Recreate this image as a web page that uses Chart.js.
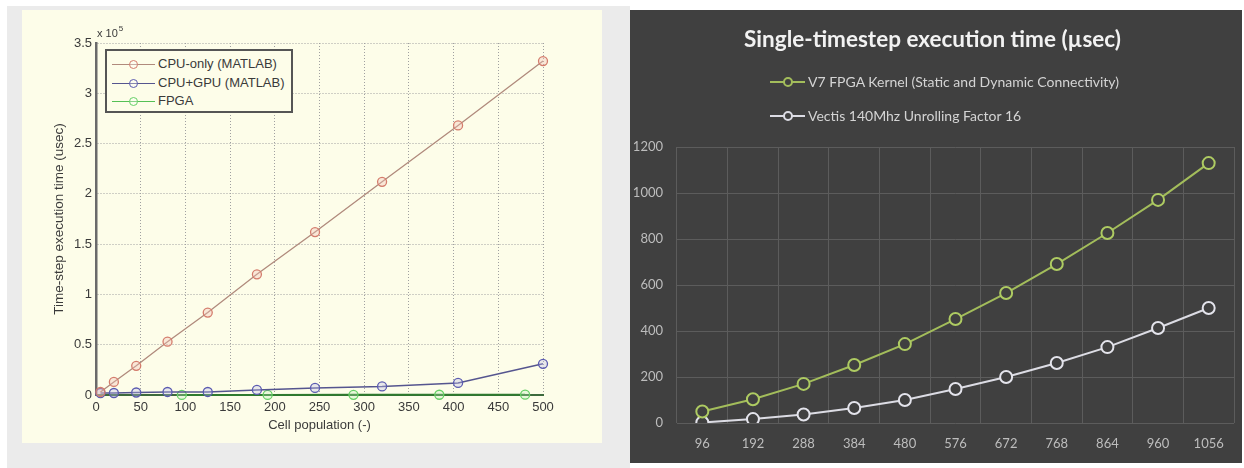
<!DOCTYPE html>
<html>
<head>
<meta charset="utf-8">
<script src="https://cdn.jsdelivr.net/npm/chart.js@4.4.0/dist/chart.umd.min.js"></script>
<style>
  html,body{margin:0;padding:0;}
  body{width:1244px;height:468px;position:relative;overflow:hidden;background:#ffffff;font-family:"Liberation Sans",Arial,sans-serif;}
  .abs{position:absolute;}
  #grayBg{left:7px;top:6px;width:623px;height:462px;background:#ebebeb;}
  #leftPanel{left:22px;top:10px;width:580px;height:433px;background:#fdfde9;}
  #rightPanel{left:630px;top:10px;width:612px;height:453px;background:#404040;}
  #legL{left:105px;top:49px;width:184px;height:60px;border:2px solid #555;background:#fdfde9;}
  .lgLine{position:absolute;height:1px;}
  .lgDot{position:absolute;border-radius:50%;box-sizing:border-box;}
  .lgTxt{position:absolute;white-space:nowrap;}
</style>
</head>
<body>
<div id="grayBg" class="abs"></div>
<div id="leftPanel" class="abs"><canvas id="c1" width="580" height="433"></canvas></div>
<div id="rightPanel" class="abs"><canvas id="c2" width="612" height="453"></canvas></div>
<div id="legL" class="abs"></div>
<div id="legR"></div>
<script>
// ---------- data: left chart (MATLAB) ----------
const populationX = [5, 20, 45, 80, 125, 180, 245, 320, 405, 500];
const cpuOnly     = [3000, 13000, 29000, 53000, 82000, 120000, 162000, 212000, 268000, 332000];
const cpuGpu      = [2000, 2000, 2500, 3000, 3000, 5000, 7000, 8500, 12000, 31000];
const fpgaX       = [96, 192, 288, 384, 480];
const fpgaUs      = [50, 103, 170, 252, 343];
const leftLabels  = ['CPU-only (MATLAB)', 'CPU+GPU (MATLAB)', 'FPGA'];

// ---------- data: right chart (Excel) ----------
const cellCategories = ['96','192','288','384','480','576','672','768','864','960','1056'];
const v7Kernel = [50, 103, 170, 252, 343, 452, 565, 691, 826, 970, 1130];
const vectis   = [2, 17, 37, 65, 100, 148, 200, 261, 330, 413, 500];
const rightLabels = ['V7 FPGA Kernel (Static and Dynamic Connectivity)', 'Vectis 140Mhz Unrolling Factor 16'];
const rightTitle = 'Single-timestep execution time (\u00b5sec)';

function pts(xs, ys){ return xs.map((x,i)=>({x:x, y:ys[i]})); }

// ---------- left chart ----------
const exponentPlugin = {
  id:'exponent',
  afterDraw(chart){
    const ctx = chart.ctx, a = chart.chartArea;
    ctx.save();
    ctx.fillStyle = '#3a3a3a';
    ctx.font = '11px "Liberation Sans", Arial, sans-serif';
    ctx.textBaseline = 'alphabetic';
    ctx.fillText('x 10', a.left + 1, a.top - 6);
    const w = ctx.measureText('x 10').width;
    ctx.font = '8px "Liberation Sans", Arial, sans-serif';
    ctx.fillText('5', a.left + 2 + w, a.top - 12);
    ctx.restore();
  }
};

const leftFont = {family:'"Liberation Sans", Arial, sans-serif', size:13};
new Chart(document.getElementById('c1'), {
  type:'scatter',
  data:{datasets:[
    {label:leftLabels[0], data:pts(populationX, cpuOnly), showLine:true, clip:false,
     borderColor:'#b08a7c', borderWidth:1.3, pointRadius:4.5, pointBorderWidth:1.3,
     pointBorderColor:'#d47c6c', pointBackgroundColor:'rgba(240,190,180,0.35)'},
    {label:leftLabels[1], data:pts(populationX, cpuGpu), showLine:true, clip:false,
     borderColor:'#55558f', borderWidth:1.5, pointRadius:4.5, pointBorderWidth:1.3,
     pointBorderColor:'#5a5ab0', pointBackgroundColor:'rgba(190,190,235,0.35)'},
    {label:leftLabels[2], data:pts(fpgaX, fpgaUs), showLine:true, clip:false,
     borderColor:'#2f7a2f', borderWidth:2, pointRadius:4.5, pointBorderWidth:1.3,
     pointBorderColor:'#66d066', pointBackgroundColor:'rgba(190,240,190,0.3)'}
  ]},
  options:{
    responsive:false, animation:false,
    layout:{padding:{left:0, right:59, top:33, bottom:0}},
    plugins:{legend:{display:false}, tooltip:{enabled:false}},
    scales:{
      x:{type:'linear', min:0, max:500,
         ticks:{stepSize:50, padding:5, color:'#3a3a3a', font:leftFont, maxRotation:0},
         grid:{color:'#a0a0a0', lineWidth:1, drawTicks:false},
         border:{display:true, color:'#3d6a3d', width:2, dash:[1,2]},
         title:{display:true, text:'Cell population (-)', color:'#3a3a3a', font:leftFont, padding:{top:0, bottom:10}},
         afterFit(s){ s.height = 48; }},
      y:{type:'linear', min:0, max:350000,
         ticks:{stepSize:50000, padding:4, color:'#3a3a3a', font:leftFont,
                callback:(v)=>String(Math.round(v/1e4)/10)},
         grid:{color:'#a0a0a0', lineWidth:1, drawTicks:false},
         border:{display:true, color:'#6a6a6a', width:2.5, dash:[1,2]},
         title:{display:true, text:'Time-step execution time (usec)', color:'#3a3a3a',
                font:{family:'"Liberation Sans", Arial, sans-serif', size:13.5}, padding:{top:29, bottom:0}},
         afterFit(s){ s.width = 74; }}
    }
  },
  plugins:[exponentPlugin]
});

// left legend (HTML)
(function(){
  const box = document.getElementById('legL');
  const cols = [['#b08a7c','#d47c6c'],['#55558f','#5a5ab0'],['#55c055','#66d066']];
  const rowsY = [13, 32, 50];
  leftLabels.forEach((t,i)=>{
    const y = rowsY[i];
    const ln = document.createElement('div'); ln.className='lgLine';
    ln.style.cssText += `left:5px;top:${y}px;width:43px;background:${cols[i][0]};`;
    box.appendChild(ln);
    const d = document.createElement('div'); d.className='lgDot';
    d.style.cssText += `left:22px;top:${y-4}px;width:9px;height:9px;border:1.2px solid ${cols[i][1]};background:rgba(255,255,255,0.3);`;
    box.appendChild(d);
    const tx = document.createElement('div'); tx.className='lgTxt'; tx.textContent=t;
    tx.style.cssText += `left:51px;top:${y-8}px;font-size:13px;line-height:16px;color:#3a3a3a;`;
    box.appendChild(tx);
  });
})();

// ---------- right chart ----------
const rightFont = {family:'Lato, "Open Sans", sans-serif', size:13};
new Chart(document.getElementById('c2'), {
  type:'line',
  data:{labels:cellCategories, datasets:[
    {label:rightLabels[0], data:v7Kernel, borderColor:'#a3bd5b', borderWidth:2,
     pointRadius:6, pointBorderWidth:2, pointBorderColor:'#aecb62', pointBackgroundColor:'#404040', tension:0},
    {label:rightLabels[1], data:vectis, borderColor:'#dcdce4', borderWidth:2,
     pointRadius:6, pointBorderWidth:2, pointBorderColor:'#e4e4ec', pointBackgroundColor:'#404040', tension:0}
  ]},
  options:{
    responsive:false, animation:false,
    layout:{padding:{left:0, right:7, top:0, bottom:0}},
    plugins:{
      legend:{display:false}, tooltip:{enabled:false},
      title:{display:true, text:rightTitle, color:'#f2f2f2',
             font:{family:'Lato, "Open Sans", sans-serif', size:22.5, weight:'bold'},
             padding:{top:16.5, bottom:93.5}}
    },
    scales:{
      x:{type:'category', offset:true,
         ticks:{padding:13, color:'#bdbdbd', font:rightFont, maxRotation:0, autoSkip:false},
         grid:{offset:true, color:'#5c5c5c', lineWidth:1, drawTicks:false},
         border:{display:false},
         afterFit(s){ s.height = 40; }},
      y:{type:'linear', min:0, max:1200,
         ticks:{stepSize:200, padding:14, color:'#bdbdbd', font:rightFont, callback:(v)=>String(v)},
         grid:{color:'#5c5c5c', lineWidth:1, drawTicks:false},
         border:{display:false},
         afterFit(s){ s.width = 47; }}
    }
  }
});

// right legend (HTML)
(function(){
  const cols = ['#a3bd5b','#dcdce4'];
  const rowsY = [82, 116];
  rightLabels.forEach((t,i)=>{
    const y = rowsY[i];
    const ln = document.createElement('div'); ln.className='lgLine abs';
    ln.style.cssText += `left:770px;top:${y-1}px;width:35px;height:2px;background:${cols[i]};`;
    document.body.appendChild(ln);
    const d = document.createElement('div'); d.className='lgDot abs';
    d.style.cssText += `left:783px;top:${y-5}px;width:10px;height:10px;border:2px solid ${cols[i]};background:#404040;`;
    document.body.appendChild(d);
    const tx = document.createElement('div'); tx.className='lgTxt abs'; tx.textContent=t;
    tx.style.cssText += `left:808px;top:${y-9}px;font-family:Lato,"Open Sans",sans-serif;font-size:14px;line-height:18px;color:#d4d4d4;`;
    document.body.appendChild(tx);
  });
})();
</script>
</body>
</html>
